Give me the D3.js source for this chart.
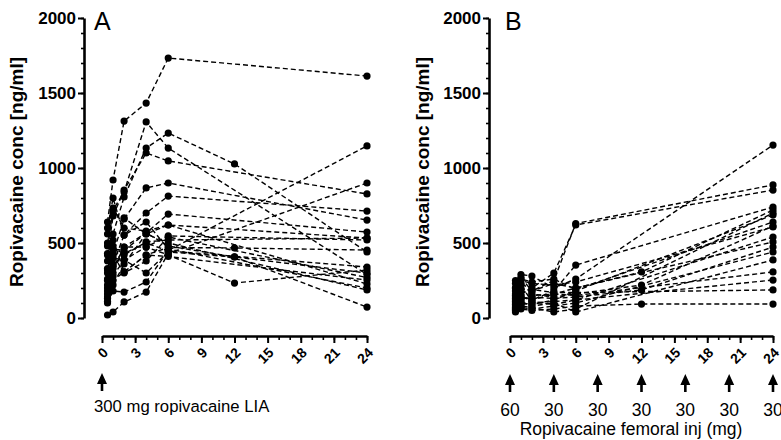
<!DOCTYPE html>
<html><head><meta charset="utf-8">
<script src="https://cdn.jsdelivr.net/npm/d3@7"></script>
<style>body{margin:0;background:#fff}svg{display:block}text{font-family:"Liberation Sans",Arial,sans-serif}</style>
</head><body><svg id="c" width="781" height="440"></svg>
<script>
// ---- data ----
const timesA = [0.5, 1, 2, 4, 6, 12, 24];
const subjectsA = [
  [640, 920, 1313, 1433, 1733, null, 1613],
  [480, 720, 840, 1307, 1133, null, 290],
  [300, 560, 807, 1133, 1233, 1027, 440],
  [420, 680, 853, 1100, 1047, null, 827],
  [250, 430, 660, 867, 900, null, 653],
  [160, 360, 553, 700, 813, null, 713],
  [110, 300, 473, 567, 693, null, 573],
  [500, 700, 667, 560, 620, null, 533],
  [200, 400, 387, 473, 547, null, 520],
  [320, 480, 420, 507, 520, null, 533],
  [140, 250, 307, 420, 470, 467, 453],
  [100, 180, 173, 240, 450, null, 1147],
  [20, 40, 107, 173, 430, null, 900],
  [180, 280, 387, 300, 440, 407, 300],
  [260, 330, 473, 473, 420, 233, 320],
  [430, 520, 307, 420, 410, null, 253],
  [600, 800, 553, 640, 460, null, 200],
  [380, 460, 450, 567, 480, 407, 73],
  [220, 350, 430, 500, 447, null, 340],
  [130, 220, 360, 560, 500, null, 187],
  [560, 733, 600, 580, 620, null, 227],
  [330, 420, 300, 380, 540, null, 270]
];
const timesB = [0.5, 1, 2, 4, 6, 12, 24];
const subjectsB = [
  [150, 200, 180, 250, 630, null, 887],
  [120, 160, 200, 300, 620, null, 853],
  [200, 290, 280, 200, 260, null, 1153],
  [100, 150, 120, 180, 353, null, 740],
  [80, 120, 150, 160, 200, 307, 720],
  [60, 100, 90, 120, 180, null, 687],
  [180, 250, 230, 220, 240, null, 607],
  [140, 180, 160, 140, 160, 220, 613],
  [70, 90, 100, 110, 120, null, 540],
  [230, 270, 180, 230, 200, null, 507],
  [110, 130, 140, 130, 140, 187, 473],
  [50, 70, 60, 80, 100, null, 440],
  [90, 110, 80, 100, 40, null, 387],
  [160, 140, 120, 160, 150, null, 307],
  [40, 60, 50, 60, 80, 93, 93],
  [130, 220, 110, 90, 120, null, 253],
  [200, 230, 190, 170, 170, null, 187],
  [60, 80, 70, 40, 60, null, 700],
  [250, 260, 240, 260, 190, null, 640]
];
const yTicks = [0, 500, 1000, 1500, 2000];
const xTicks = [0, 3, 6, 9, 12, 15, 18, 21, 24];
const arrowTimesB = [0, 4, 8, 12, 16, 20, 24];
const doseLabelsB = ["60", "30", "30", "30", "30", "30", "30"];
const yLabel = "Ropivacaine conc [ng/ml]";

// ---- drawing ----
const svg = d3.select("#c");

function panel(cfg) {
  const x = d3.scaleLinear().domain([0, 24]).range([cfg.x0, cfg.x1]);
  const y = d3.scaleLinear().domain([0, 2000]).range([318, 18]);
  const g = svg.append("g");

  // y axis minor
  g.append("g").attr("transform", `translate(${cfg.yAxisX},0)`)
    .call(d3.axisLeft(y).tickValues(d3.range(0, 2001, 100)).tickSize(3).tickFormat(""))
    .call(a => a.select(".domain").remove())
    .call(a => a.selectAll("line").attr("stroke-width", 1.6));
  // y axis major
  g.append("g").attr("transform", `translate(${cfg.yAxisX},0)`)
    .call(d3.axisLeft(y).tickValues(yTicks).tickSize(6).tickSizeOuter(0).tickPadding(2).tickFormat(d3.format("d")))
    .call(a => a.select(".domain").attr("stroke-width", 2.6))
    .call(a => a.selectAll("line").attr("stroke-width", 2))
    .call(a => a.selectAll("text").attr("font-size", 17).attr("font-weight", "bold"));

  // x axis minor
  const xAxisY = 336;
  g.append("g").attr("transform", `translate(0,${xAxisY})`)
    .call(d3.axisBottom(x).tickValues(d3.range(0, 25, 1)).tickSize(4).tickFormat(""))
    .call(a => a.select(".domain").remove())
    .call(a => a.selectAll("line").attr("stroke-width", 1.6));
  g.append("g").attr("transform", `translate(0,${xAxisY})`)
    .call(d3.axisBottom(x).tickValues(xTicks).tickSize(7).tickSizeOuter(0))
    .call(a => a.select(".domain").attr("stroke-width", 2.6))
    .call(a => a.selectAll("line").attr("stroke-width", 2))
    .call(a => a.selectAll("text")
      .attr("font-size", 14).attr("font-weight", "bold")
      .attr("text-anchor", "end").attr("x", 0).attr("y", 0).attr("dy", "0.35em")
      .attr("transform", "translate(3,14) rotate(-45)"));

  // y label
  g.append("text").attr("transform", `translate(${cfg.labelX},172) rotate(-90)`)
    .attr("text-anchor", "middle").attr("font-size", 19).attr("font-weight", "bold")
    .text(yLabel);
  // panel letter
  g.append("text").attr("x", cfg.letterX).attr("y", 30).attr("font-size", 25).text(cfg.letter);

  // lines
  const line = d3.line().x(d => x(d.t)).y(d => y(d.v));
  cfg.subjects.forEach(s => {
    const pts = cfg.times.map((t, i) => ({ t, v: s[i] })).filter(d => d.v != null);
    g.append("path").datum(pts).attr("d", line).attr("fill", "none")
      .attr("stroke", "#000").attr("stroke-width", 1.4).attr("stroke-dasharray", "5,3");
    g.selectAll(null).data(pts).enter().append("circle")
      .attr("cx", d => x(d.t)).attr("cy", d => y(d.v)).attr("r", 3.6).attr("fill", "#000");
  });
  return { x, g };
}

function arrow(g, cx, top) {
  g.append("path")
    .attr("d", `M${cx},${top} L${cx + 5},${top + 11} L${cx + 1.3},${top + 11} L${cx + 1.3},${top + 18} L${cx - 1.3},${top + 18} L${cx - 1.3},${top + 11} L${cx - 5},${top + 11} Z`)
    .attr("fill", "#000");
}

const A = panel({ x0: 102, x1: 367, yAxisX: 84, labelX: 23, letterX: 94, letter: "A", subjects: subjectsA, times: timesA });
arrow(A.g, A.x(0), 373);
A.g.append("text").attr("x", 94).attr("y", 412).attr("font-size", 16.7).text("300 mg ropivacaine LIA");

const B = panel({ x0: 510, x1: 773, yAxisX: 489, labelX: 429, letterX: 505, letter: "B", subjects: subjectsB, times: timesB });
arrowTimesB.forEach((t, i) => {
  arrow(B.g, B.x(t), 374);
  B.g.append("text").attr("x", B.x(t)).attr("y", 416).attr("text-anchor", "middle")
    .attr("font-size", 17.5).text(doseLabelsB[i]);
});
B.g.append("text").attr("x", 631).attr("y", 435).attr("text-anchor", "middle")
  .attr("font-size", 17.5).text("Ropivacaine femoral inj (mg)");
</script></body></html>
